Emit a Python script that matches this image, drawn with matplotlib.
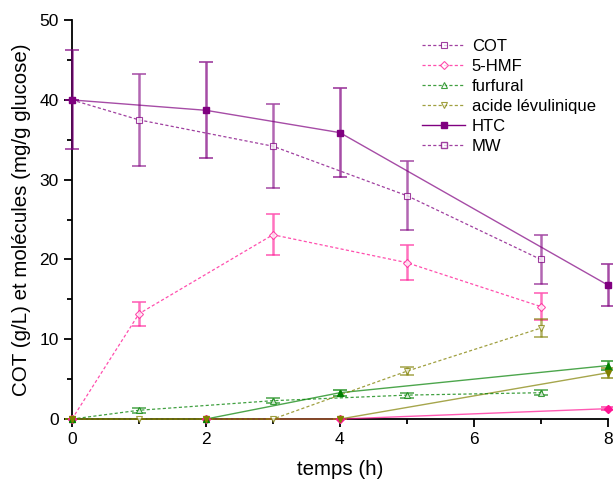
import matplotlib
matplotlib.use("Agg")
import matplotlib.pyplot as plt
from matplotlib.lines import Line2D
from matplotlib.ticker import MultipleLocator

plt.rcParams["font.family"] = ["Liberation Sans", "DejaVu Sans"]

# MW series (dashed, open markers)
mw_t = [0, 1, 3, 5, 7]
mw_cot = [40.0, 37.5, 34.2, 28.0, 20.0]
mw_cot_err = [0, 5.8, 5.3, 4.3, 3.1]
mw_hmf = [0, 13.2, 23.1, 19.6, 14.1]
mw_hmf_err = [0, 1.5, 2.6, 2.2, 1.7]
mw_furf = [0, 1.1, 2.3, 3.0, 3.3]
mw_furf_err = [0, 0.3, 0.3, 0.3, 0.3]
mw_levu = [0, 0, 0, 6.0, 11.4]
mw_levu_err = [0, 0, 0, 0.5, 1.1]

# HTC series (solid, filled markers)
htc_t = [0, 2, 4, 8]
htc_cot = [40.0, 38.7, 35.9, 16.8]
htc_cot_err = [6.2, 6.0, 5.6, 2.6]
htc_hmf = [0, 0, 0, 1.3]
htc_hmf_err = [0, 0, 0, 0.2]
htc_furf = [0, 0, 3.3, 6.7]
htc_furf_err = [0, 0, 0.4, 0.6]
htc_levu = [0, 0, 0, 5.8]
htc_levu_err = [0, 0, 0, 0.6]

labels = ["COT", "5-HMF", "furfural", "acide lévulinique"]
colors = ["#800080", "#ff1493", "#008000", "#808000"]
markers = ["s", "D", "^", "v"]

fig = plt.figure(figsize=(6.13, 4.8), dpi=100)
ax = fig.add_axes([0.1175, 0.127, 0.874, 0.831])

mw_data = [(mw_cot, mw_cot_err), (mw_hmf, mw_hmf_err),
           (mw_furf, mw_furf_err), (mw_levu, mw_levu_err)]
htc_data = [(htc_cot, htc_cot_err), (htc_hmf, htc_hmf_err),
            (htc_furf, htc_furf_err), (htc_levu, htc_levu_err)]

dash = (0, (2.5, 1.8))

# HTC curves
for (y, e), c, m in zip(htc_data, colors, markers):
    ax.errorbar(htc_t, y, yerr=e, color=c, ecolor=c, elinewidth=1.8,
                capsize=5, capthick=1.3, linestyle="-", linewidth=1.0,
                marker="none", alpha=0.7, clip_on=False, zorder=3)
    ax.plot(htc_t, y, linestyle="none", marker=m, markersize=4.5, color=c,
            clip_on=False, zorder=5)

# MW curves
handles = []
for (y, e), c, m, lab in zip(mw_data, colors, markers, labels):
    ax.errorbar(mw_t, y, yerr=e, color=c, ecolor=c, elinewidth=1.8,
                capsize=5, capthick=1.3, linestyle="none", alpha=0.6,
                clip_on=False, zorder=3)
    ln, = ax.plot(mw_t, y, color=c, linestyle=dash, linewidth=0.9,
                  marker=m, markersize=4.5, markerfacecolor="white",
                  markeredgecolor=c, markeredgewidth=0.8, alpha=0.75,
                  clip_on=False, zorder=4, label=lab)
    handles.append(ln)

# Legend proxies for the two processes
handles.append(Line2D([], [], color="#800080", linestyle="-", linewidth=1.0,
                      marker="s", markersize=4.5, label="HTC"))
handles.append(Line2D([], [], color="#800080", linestyle=dash,
                      linewidth=0.9, marker="s", markersize=4.5,
                      markerfacecolor="white", alpha=0.75, label="MW"))

ax.legend(handles=handles, loc="upper left", bbox_to_anchor=(0.625, 0.99),
          frameon=False, fontsize=12, handlelength=2.6, labelspacing=0.3,
          handletextpad=0.4)

ax.set_xlim(0, 8)
ax.set_ylim(0, 50)
ax.xaxis.set_major_locator(MultipleLocator(2))
ax.xaxis.set_minor_locator(MultipleLocator(1))
ax.yaxis.set_major_locator(MultipleLocator(10))
ax.yaxis.set_minor_locator(MultipleLocator(5))
ax.tick_params(which="major", direction="out", length=6, width=1.3,
               labelsize=12.5)
ax.tick_params(which="minor", direction="out", length=3.5, width=1.3)

for side in ["top", "right"]:
    ax.spines[side].set_visible(False)
for side in ["left", "bottom"]:
    ax.spines[side].set_linewidth(1.3)

ax.set_xlabel("temps (h)", fontsize=14.8, labelpad=9)
ax.set_ylabel("COT (g/L) et molécules (mg/g glucose)", fontsize=14.8,
              labelpad=6)

fig.savefig("out.png", dpi=100)
